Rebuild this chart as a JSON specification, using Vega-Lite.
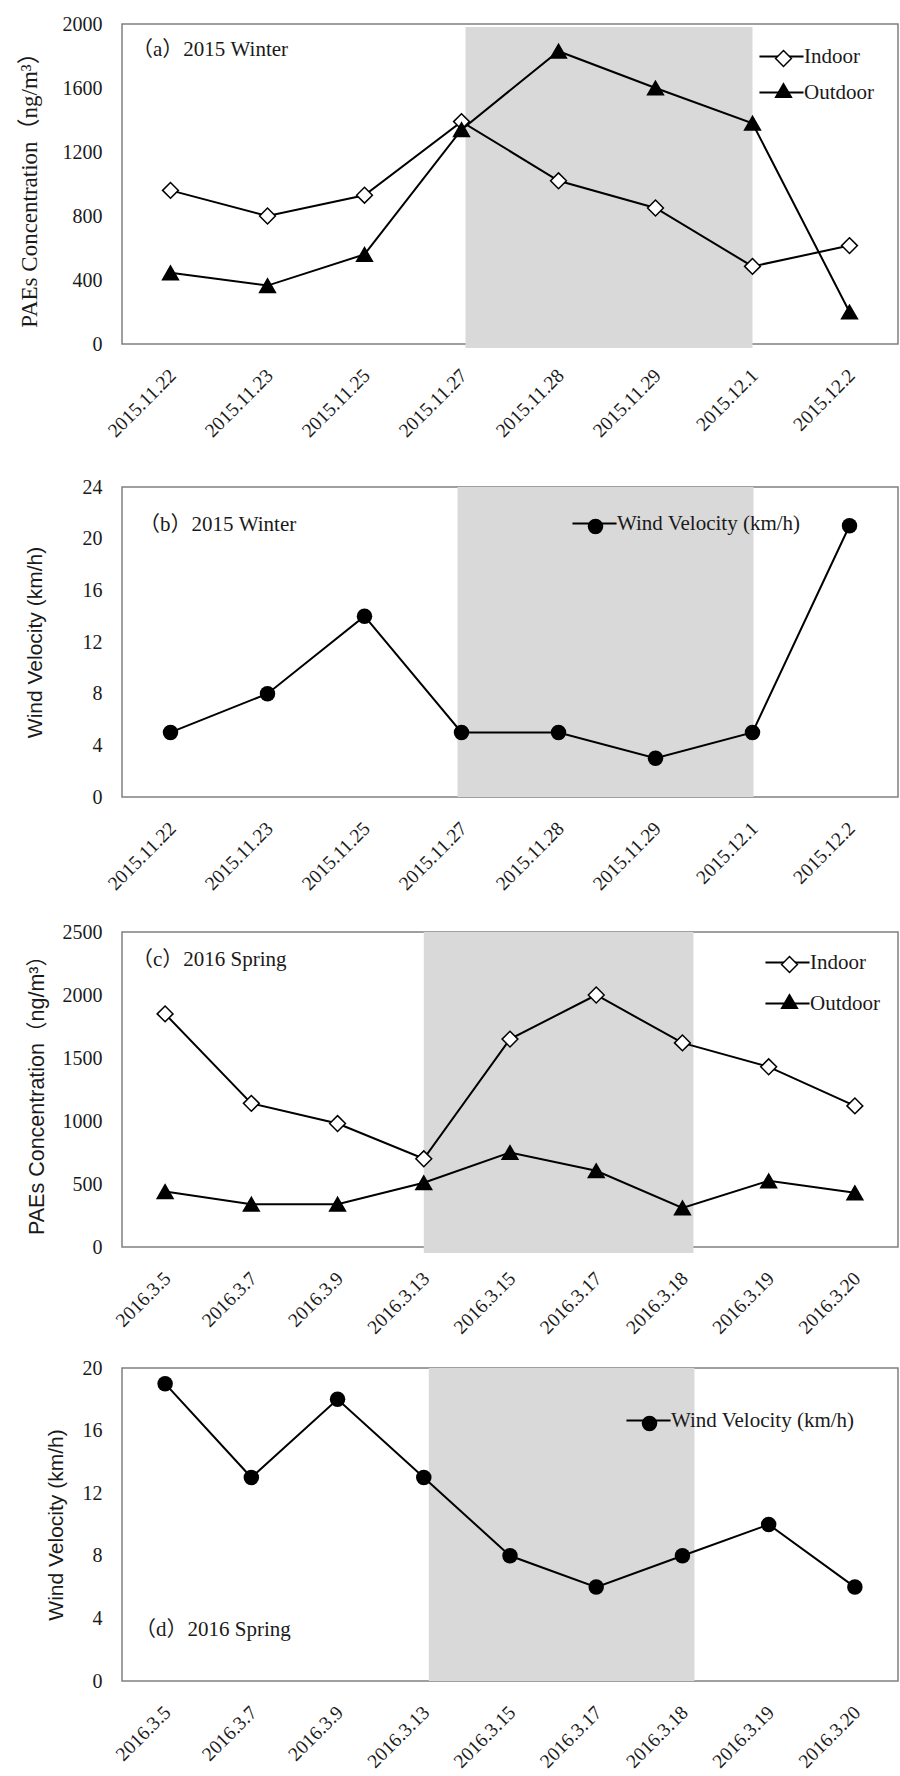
{
  "$schema": "https://vega.github.io/schema/vega-lite/v6.json",
  "background": "white",
  "padding": {"left": 17, "top": 13, "right": 0, "bottom": 0},
  "spacing": 19,
  "config": {
    "view": {"stroke": "#808080", "strokeWidth": 1.5},
    "axis": {"grid": false, "ticks": false, "domain": false, "labelFont": "Liberation Serif", "labelFontSize": 20, "labelColor": "#1a1a1a", "titleColor": "#1a1a1a", "titleFontWeight": "normal"},
    "axisX": {"labelAngle": -45, "labelAlign": "right", "labelBaseline": "middle", "labelPadding": 28, "labelOffset": 2, "labelFontSize": 19.5},
    "axisY": {"labelPadding": 20, "format": "d"},
    "legend": {"padding": 0, "labelFont": "Liberation Serif", "labelFontSize": 21, "labelColor": "#1a1a1a", "labelLimit": 400},
    "title": {"font": "Liberation Serif, Noto Sans CJK SC", "fontSize": 21, "fontWeight": "normal", "color": "#1a1a1a", "anchor": "start", "frame": "group", "baseline": "middle"}
  },
  "resolve": {
    "scale": {"color": "independent", "shape": "independent", "fill": "independent", "stroke": "independent"},
    "legend": {"color": "independent", "shape": "independent", "fill": "independent", "stroke": "independent"}
  },
  "datasets": {
    "concA": [
      {"date": "2015.11.22", "series": "Indoor", "value": 960},
      {"date": "2015.11.23", "series": "Indoor", "value": 800},
      {"date": "2015.11.25", "series": "Indoor", "value": 930},
      {"date": "2015.11.27", "series": "Indoor", "value": 1390},
      {"date": "2015.11.28", "series": "Indoor", "value": 1020},
      {"date": "2015.11.29", "series": "Indoor", "value": 850},
      {"date": "2015.12.1", "series": "Indoor", "value": 485},
      {"date": "2015.12.2", "series": "Indoor", "value": 615},
      {"date": "2015.11.22", "series": "Outdoor", "value": 445},
      {"date": "2015.11.23", "series": "Outdoor", "value": 365},
      {"date": "2015.11.25", "series": "Outdoor", "value": 560},
      {"date": "2015.11.27", "series": "Outdoor", "value": 1340},
      {"date": "2015.11.28", "series": "Outdoor", "value": 1830},
      {"date": "2015.11.29", "series": "Outdoor", "value": 1600},
      {"date": "2015.12.1", "series": "Outdoor", "value": 1380},
      {"date": "2015.12.2", "series": "Outdoor", "value": 200}
    ],
    "windB": [
      {"date": "2015.11.22", "series": "Wind Velocity (km/h)", "value": 5},
      {"date": "2015.11.23", "series": "Wind Velocity (km/h)", "value": 8},
      {"date": "2015.11.25", "series": "Wind Velocity (km/h)", "value": 14},
      {"date": "2015.11.27", "series": "Wind Velocity (km/h)", "value": 5},
      {"date": "2015.11.28", "series": "Wind Velocity (km/h)", "value": 5},
      {"date": "2015.11.29", "series": "Wind Velocity (km/h)", "value": 3},
      {"date": "2015.12.1", "series": "Wind Velocity (km/h)", "value": 5},
      {"date": "2015.12.2", "series": "Wind Velocity (km/h)", "value": 21}
    ],
    "concC": [
      {"date": "2016.3.5", "series": "Indoor", "value": 1850},
      {"date": "2016.3.7", "series": "Indoor", "value": 1140},
      {"date": "2016.3.9", "series": "Indoor", "value": 980},
      {"date": "2016.3.13", "series": "Indoor", "value": 700},
      {"date": "2016.3.15", "series": "Indoor", "value": 1650},
      {"date": "2016.3.17", "series": "Indoor", "value": 2000},
      {"date": "2016.3.18", "series": "Indoor", "value": 1620},
      {"date": "2016.3.19", "series": "Indoor", "value": 1430},
      {"date": "2016.3.20", "series": "Indoor", "value": 1120},
      {"date": "2016.3.5", "series": "Outdoor", "value": 440},
      {"date": "2016.3.7", "series": "Outdoor", "value": 340},
      {"date": "2016.3.9", "series": "Outdoor", "value": 340},
      {"date": "2016.3.13", "series": "Outdoor", "value": 510},
      {"date": "2016.3.15", "series": "Outdoor", "value": 750},
      {"date": "2016.3.17", "series": "Outdoor", "value": 605},
      {"date": "2016.3.18", "series": "Outdoor", "value": 310},
      {"date": "2016.3.19", "series": "Outdoor", "value": 525},
      {"date": "2016.3.20", "series": "Outdoor", "value": 430}
    ],
    "windD": [
      {"date": "2016.3.5", "series": "Wind Velocity (km/h)", "value": 19},
      {"date": "2016.3.7", "series": "Wind Velocity (km/h)", "value": 13},
      {"date": "2016.3.9", "series": "Wind Velocity (km/h)", "value": 18},
      {"date": "2016.3.13", "series": "Wind Velocity (km/h)", "value": 13},
      {"date": "2016.3.15", "series": "Wind Velocity (km/h)", "value": 8},
      {"date": "2016.3.17", "series": "Wind Velocity (km/h)", "value": 6},
      {"date": "2016.3.18", "series": "Wind Velocity (km/h)", "value": 8},
      {"date": "2016.3.19", "series": "Wind Velocity (km/h)", "value": 10},
      {"date": "2016.3.20", "series": "Wind Velocity (km/h)", "value": 6}
    ],
    "shadeWinter": [{"start": "2015.11.27", "end": "2015.12.1"}],
    "shadeSpring": [{"start": "2016.3.13", "end": "2016.3.18"}]
  },
  "vconcat": [
    {
      "width": 776,
      "height": 320,
      "title": {"text": "（a）2015 Winter", "offset": -46, "dx": 10},
      "layer": [
        {
          "data": {"name": "shadeWinter"},
          "mark": {"type": "rect", "color": "#d9d9d9", "xOffset": 4, "yOffset": 4, "y2Offset": 3},
          "encoding": {
            "x": {"field": "start", "type": "ordinal", "title": " ", "scale": {"type": "point", "padding": 0.5, "domain": ["2015.11.22", "2015.11.23", "2015.11.25", "2015.11.27", "2015.11.28", "2015.11.29", "2015.12.1", "2015.12.2"]}, "axis": {"labelFont": "Liberation Serif", "labelFontSize": 19.5, "titleFontSize": 5, "titlePadding": 10}},
            "x2": {"field": "end"},
            "y": {"datum": 0, "type": "quantitative"},
            "y2": {"datum": 2000}
          }
        },
        {
          "data": {"name": "concA"},
          "mark": {"type": "line", "strokeWidth": 2},
          "encoding": {
            "x": {"field": "date", "type": "ordinal", "title": " "},
            "y": {"field": "value", "type": "quantitative", "scale": {"domain": [0, 2000], "nice": false}, "axis": {"values": [0, 200, 400, 600, 800, 1000, 1200, 1400, 1600, 1800, 2000], "format": "d", "labelFont": "Liberation Serif", "labelFontSize": 20, "title": "PAEs Concentration（ng/m³）", "titleFont": "Liberation Serif, Noto Sans CJK SC", "titleFontSize": 23, "minExtent": 60, "maxExtent": 60, "titlePadding": 21}},
            "color": {"field": "series", "type": "nominal", "scale": {"domain": ["Indoor", "Outdoor"], "range": ["black", "black"]}, "legend": {"title": null, "orient": "none", "legendX": 649, "legendY": 22, "symbolType": "M-2.45,0H2.45", "symbolSize": 324, "symbolStrokeWidth": 2, "labelOffset": 12, "rowPadding": 14, "labelFont": "Liberation Serif", "labelFontSize": 21}}
          }
        },
        {
          "data": {"name": "concA"},
          "mark": {"type": "point", "filled": true, "size": 250, "strokeWidth": 1.5, "opacity": 1},
          "encoding": {
            "x": {"field": "date", "type": "ordinal", "title": " "},
            "y": {"field": "value", "type": "quantitative"},
            "shape": {"field": "series", "type": "nominal", "scale": {"range": ["diamond", "triangle-up"]}, "legend": {"title": null, "orient": "none", "legendX": 651, "legendY": 24, "symbolSize": 250, "symbolStrokeWidth": 1.5, "labelExpr": "''", "rowPadding": 9}},
            "fill": {"field": "series", "type": "nominal", "scale": {"range": ["white", "black"]}, "legend": {"title": null, "orient": "none", "legendX": 651, "legendY": 24, "symbolSize": 250, "symbolStrokeWidth": 1.5, "labelExpr": "''", "rowPadding": 9}},
            "stroke": {"field": "series", "type": "nominal", "scale": {"range": ["black", "black"]}, "legend": {"title": null, "orient": "none", "legendX": 651, "legendY": 24, "symbolSize": 250, "symbolStrokeWidth": 1.5, "labelExpr": "''", "rowPadding": 9}}
          }
        }
      ]
    },
    {
      "width": 776,
      "height": 310,
      "title": {"text": "（b）2015 Winter", "offset": -58, "dx": 17},
      "layer": [
        {
          "data": {"name": "shadeWinter"},
          "mark": {"type": "rect", "color": "#d9d9d9", "xOffset": -4, "x2Offset": 1},
          "encoding": {
            "x": {"field": "start", "type": "ordinal", "title": " ", "scale": {"type": "point", "padding": 0.5, "domain": ["2015.11.22", "2015.11.23", "2015.11.25", "2015.11.27", "2015.11.28", "2015.11.29", "2015.12.1", "2015.12.2"]}, "axis": {"labelFont": "Liberation Serif", "labelFontSize": 19.5, "titleFontSize": 3, "titlePadding": 4}},
            "x2": {"field": "end"},
            "y": {"datum": 0, "type": "quantitative"},
            "y2": {"datum": 24}
          }
        },
        {
          "data": {"name": "windB"},
          "mark": {"type": "line", "strokeWidth": 2},
          "encoding": {
            "x": {"field": "date", "type": "ordinal", "title": " "},
            "y": {"field": "value", "type": "quantitative", "scale": {"domain": [0, 24], "nice": false}, "axis": {"values": [0, 4, 8, 12, 16, 20, 24], "format": "d", "labelFont": "Liberation Serif", "labelFontSize": 20, "title": "Wind Velocity (km/h)", "titleFont": "Liberation Sans", "titleFontSize": 21, "minExtent": 50, "maxExtent": 50, "titlePadding": 27}},
            "color": {"field": "series", "type": "nominal", "scale": {"domain": ["Wind Velocity (km/h)"], "range": ["black"]}, "legend": {"title": null, "orient": "none", "legendX": 462, "legendY": 26, "symbolType": "M-2.45,0H2.45", "symbolSize": 324, "symbolStrokeWidth": 2, "labelOffset": 12, "labelFont": "Liberation Serif", "labelFontSize": 21, "labelLimit": 400}}
          }
        },
        {
          "data": {"name": "windB"},
          "mark": {"type": "point", "filled": true, "size": 240, "shape": "circle", "color": "black", "opacity": 1},
          "encoding": {
            "x": {"field": "date", "type": "ordinal", "title": " "},
            "y": {"field": "value", "type": "quantitative"},
            "shape": {"field": "series", "type": "nominal", "scale": {"range": ["circle"]}, "legend": {"title": null, "orient": "none", "legendX": 463, "legendY": 29, "symbolSize": 240, "symbolFillColor": "black", "labelExpr": "''"}}
          }
        }
      ]
    },
    {
      "width": 776,
      "height": 315,
      "title": {"text": "（c）2016 Spring", "offset": -48, "dx": 10},
      "layer": [
        {
          "data": {"name": "shadeSpring"},
          "mark": {"type": "rect", "color": "#d9d9d9", "x2Offset": 11, "yOffset": 6},
          "encoding": {
            "x": {"field": "start", "type": "ordinal", "title": null, "scale": {"type": "point", "padding": 0.5, "domain": ["2016.3.5", "2016.3.7", "2016.3.9", "2016.3.13", "2016.3.15", "2016.3.17", "2016.3.18", "2016.3.19", "2016.3.20"]}, "axis": {"labelFont": "Liberation Serif", "labelFontSize": 19.5}},
            "x2": {"field": "end"},
            "y": {"datum": 0, "type": "quantitative"},
            "y2": {"datum": 2500}
          }
        },
        {
          "data": {"name": "concC"},
          "mark": {"type": "line", "strokeWidth": 2},
          "encoding": {
            "x": {"field": "date", "type": "ordinal", "title": null},
            "y": {"field": "value", "type": "quantitative", "scale": {"domain": [0, 2500], "nice": false}, "axis": {"values": [0, 500, 1000, 1500, 2000, 2500], "format": "d", "labelFont": "Liberation Serif", "labelFontSize": 20, "title": "PAEs Concentration（ng/m³）", "titleFont": "Liberation Sans, Noto Sans CJK SC", "titleFontSize": 21.5, "minExtent": 50, "maxExtent": 50, "titlePadding": 24}},
            "color": {"field": "series", "type": "nominal", "scale": {"domain": ["Indoor", "Outdoor"], "range": ["black", "black"]}, "legend": {"title": null, "orient": "none", "legendX": 655, "legendY": 20, "symbolType": "M-2.45,0H2.45", "symbolSize": 324, "symbolStrokeWidth": 2, "labelOffset": 12, "rowPadding": 19, "labelFont": "Liberation Serif", "labelFontSize": 21}}
          }
        },
        {
          "data": {"name": "concC"},
          "mark": {"type": "point", "filled": true, "size": 250, "strokeWidth": 1.5, "opacity": 1},
          "encoding": {
            "x": {"field": "date", "type": "ordinal", "title": null},
            "y": {"field": "value", "type": "quantitative"},
            "shape": {"field": "series", "type": "nominal", "scale": {"range": ["diamond", "triangle-up"]}, "legend": {"title": null, "orient": "none", "legendX": 657, "legendY": 22, "symbolSize": 250, "symbolStrokeWidth": 1.5, "labelExpr": "''", "rowPadding": 14}},
            "fill": {"field": "series", "type": "nominal", "scale": {"range": ["white", "black"]}, "legend": {"title": null, "orient": "none", "legendX": 657, "legendY": 22, "symbolSize": 250, "symbolStrokeWidth": 1.5, "labelExpr": "''", "rowPadding": 14}},
            "stroke": {"field": "series", "type": "nominal", "scale": {"range": ["black", "black"]}, "legend": {"title": null, "orient": "none", "legendX": 657, "legendY": 22, "symbolSize": 250, "symbolStrokeWidth": 1.5, "labelExpr": "''", "rowPadding": 14}}
          }
        }
      ]
    },
    {
      "width": 776,
      "height": 313,
      "title": {"text": "（d）2016 Spring", "orient": "bottom", "offset": -152, "dx": 13},
      "layer": [
        {
          "data": {"name": "shadeSpring"},
          "mark": {"type": "rect", "color": "#d9d9d9", "xOffset": 5, "x2Offset": 12},
          "encoding": {
            "x": {"field": "start", "type": "ordinal", "title": null, "scale": {"type": "point", "padding": 0.5, "domain": ["2016.3.5", "2016.3.7", "2016.3.9", "2016.3.13", "2016.3.15", "2016.3.17", "2016.3.18", "2016.3.19", "2016.3.20"]}, "axis": {"labelFont": "Liberation Serif", "labelFontSize": 19.5}},
            "x2": {"field": "end"},
            "y": {"datum": 0, "type": "quantitative"},
            "y2": {"datum": 20}
          }
        },
        {
          "data": {"name": "windD"},
          "mark": {"type": "line", "strokeWidth": 2},
          "encoding": {
            "x": {"field": "date", "type": "ordinal", "title": null},
            "y": {"field": "value", "type": "quantitative", "scale": {"domain": [0, 20], "nice": false}, "axis": {"values": [0, 4, 8, 12, 16, 20], "format": "d", "labelFont": "Liberation Serif", "labelFontSize": 20, "title": "Wind Velocity (km/h)", "titleFont": "Liberation Sans", "titleFontSize": 21, "minExtent": 40, "maxExtent": 40, "titlePadding": 16}},
            "color": {"field": "series", "type": "nominal", "scale": {"domain": ["Wind Velocity (km/h)"], "range": ["black"]}, "legend": {"title": null, "orient": "none", "legendX": 516, "legendY": 42, "symbolType": "M-2.45,0H2.45", "symbolSize": 324, "symbolStrokeWidth": 2, "labelOffset": 12, "labelFont": "Liberation Serif", "labelFontSize": 21, "labelLimit": 400}}
          }
        },
        {
          "data": {"name": "windD"},
          "mark": {"type": "point", "filled": true, "size": 240, "shape": "circle", "color": "black", "opacity": 1},
          "encoding": {
            "x": {"field": "date", "type": "ordinal", "title": null},
            "y": {"field": "value", "type": "quantitative"},
            "shape": {"field": "series", "type": "nominal", "scale": {"range": ["circle"]}, "legend": {"title": null, "orient": "none", "legendX": 517, "legendY": 45, "symbolSize": 240, "symbolFillColor": "black", "labelExpr": "''"}}
          }
        }
      ]
    }
  ]
}
